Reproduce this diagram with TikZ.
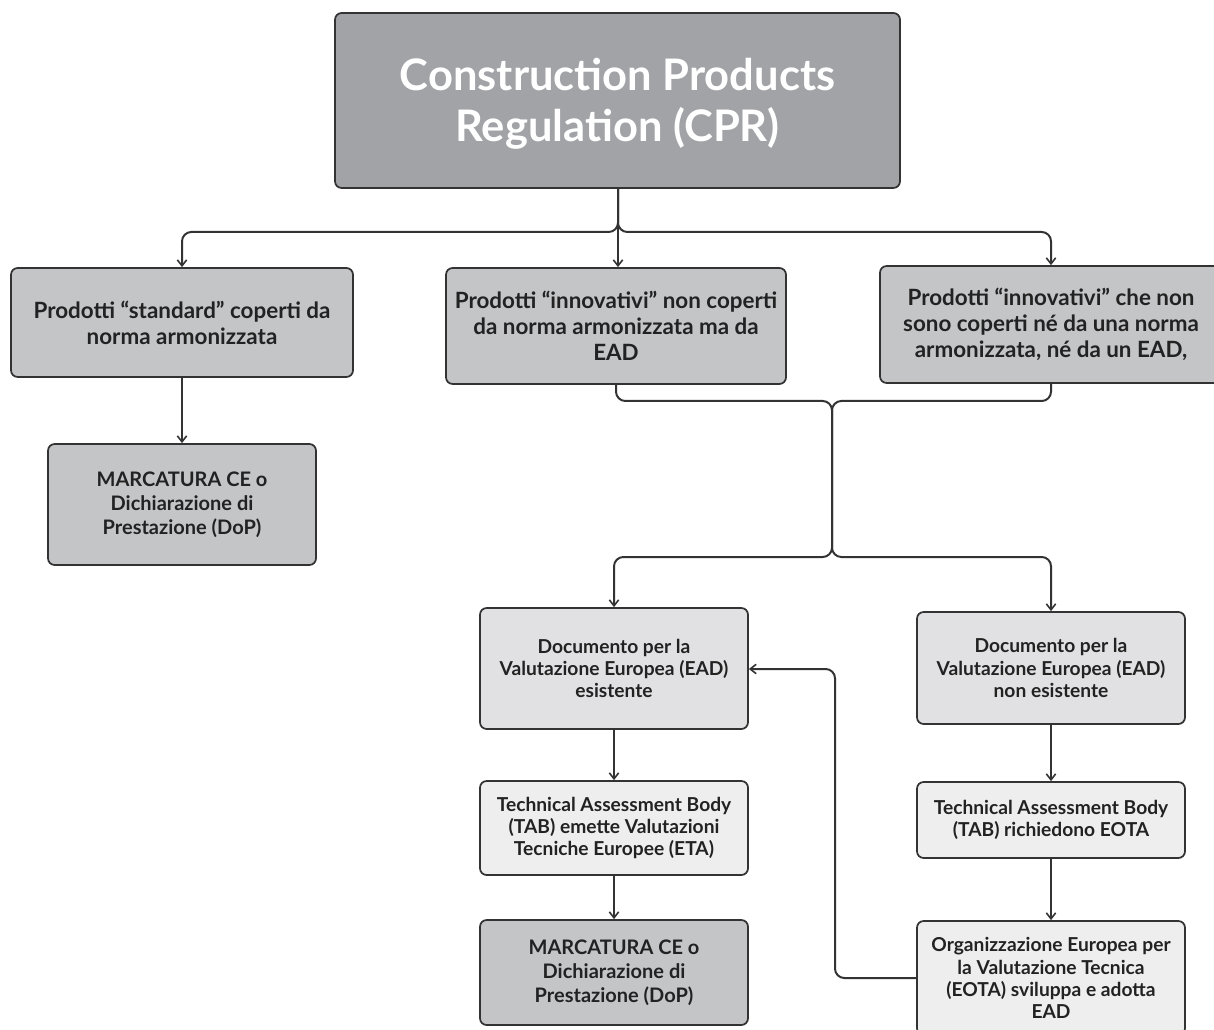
\documentclass[tikz,border=0pt]{standalone}
\usepackage{fontspec}
\setmainfont{Lato}
\usetikzlibrary{arrows.meta,positioning}
\definecolor{topfill}{HTML}{A2A3A7}
\definecolor{midfill}{HTML}{C4C5C7}
\definecolor{eadfill}{HTML}{E1E1E3}
\definecolor{tabfill}{HTML}{EEEEEF}
\definecolor{linec}{HTML}{333333}
\definecolor{txt}{HTML}{222222}
\tikzset{
  box/.style={draw=linec, line width=1.3pt, rounded corners=5pt, inner sep=0pt, align=center, text=txt, font=\bfseries},
  big/.style={box, font=\fontsize{16.8}{19.5}\selectfont\bfseries},
  small/.style={box, font=\fontsize{14.4}{16.6}\selectfont\bfseries},
  marc/.style={box, font=\fontsize{15}{18}\selectfont\bfseries},
  conn/.style={draw=linec, line width=1.5pt, rounded corners=7pt},
  arr/.style={conn, -{Straight Barb[length=4.5pt,width=7pt,line width=1.2pt]}}
}
\newcommand\bx[6]{\node[#1, minimum width={(#4-#2)*0.75pt}, minimum height={(#5-#3)*0.75pt}] (#6) at ({(#2+#4)/2},{(#3+#5)/2})}
\begin{document}
\begin{tikzpicture}[x=0.75pt,y=-0.75pt]
\useasboundingbox (0,0) rectangle (1214,1030);
\clip (0,0) rectangle (1214,1030);
% top
\bx{box, fill=topfill}{335}{13}{900}{188}{top} {};
\node[text=white, align=center, inner sep=0pt, font=\fontsize{32.6}{38.5}\selectfont\bfseries] (toptxt) at (617.5,104) {Construction Products\\Regulation (CPR)};
% row 2
\bx{big, fill=midfill}{11}{268}{353}{377}{p1} {Prodotti “standard” coperti da\\norma armonizzata};
\bx{big, fill=midfill}{446}{268}{786}{384}{p2} {Prodotti “innovativi” non coperti\\da norma armonizzata ma da\\EAD};
\bx{big, fill=midfill}{880}{266}{1222}{383}{p3} {Prodotti “innovativi” che non\\sono coperti né da una norma\\armonizzata, né da un EAD,};
% left
\bx{marc, fill=midfill}{48}{444}{316}{565}{m1} {MARCATURA CE o\\Dichiarazione di\\Prestazione (DoP)};
% lower left column
\bx{small, fill=eadfill}{480}{608}{748}{729}{e1} {Documento per la\\Valutazione Europea (EAD)\\esistente};
\bx{small, fill=tabfill}{480}{781}{748}{875}{t1} {Technical Assessment Body\\(TAB) emette Valutazioni\\Tecniche Europee (ETA)};
\bx{marc, fill=midfill}{480}{920}{748}{1025}{m2} {MARCATURA CE o\\Dichiarazione di\\Prestazione (DoP)};
% lower right column
\bx{small, fill=eadfill}{917}{612}{1185}{724}{e2} {Documento per la\\Valutazione Europea (EAD)\\non esistente};
\bx{small, fill=tabfill}{917}{782}{1185}{858}{t2} {Technical Assessment Body\\(TAB) richiedono EOTA};
\bx{small, fill=tabfill}{917}{921}{1185}{1035}{eo} {Organizzazione Europea per\\la Valutazione Tecnica\\(EOTA) sviluppa e adotta\\EAD};
% connectors from top
\coordinate (j1) at (618,232);
\draw[arr] (j1 |- top.south) -- (j1) -| (p1.north);
\draw[arr] (j1 |- top.south) -- (j1) -| (p3.north);
\draw[arr] (j1 |- top.south) -- (j1 |- p2.north);
\draw[arr] (p1.south) -- (m1.north);
% merge
\coordinate (k1) at (832,401);
\coordinate (k2) at (832,557);
\draw[arr] (p2.south) |- (k1) -- (k2) -| (e1.north);
\draw[arr] (p3.south) |- (k1) -- (k2) -| (e2.north);
% columns
\draw[arr] (e1.south) -- (t1.north);
\draw[arr] (t1.south) -- (m2.north);
\draw[arr] (e2.south) -- (t2.north);
\draw[arr] (t2.south) -- (eo.north);
% feedback
\coordinate (fb) at (835,669);
\draw[arr] (eo.west) -| (fb) -- (fb -| e1.east);
\end{tikzpicture}
\end{document}
